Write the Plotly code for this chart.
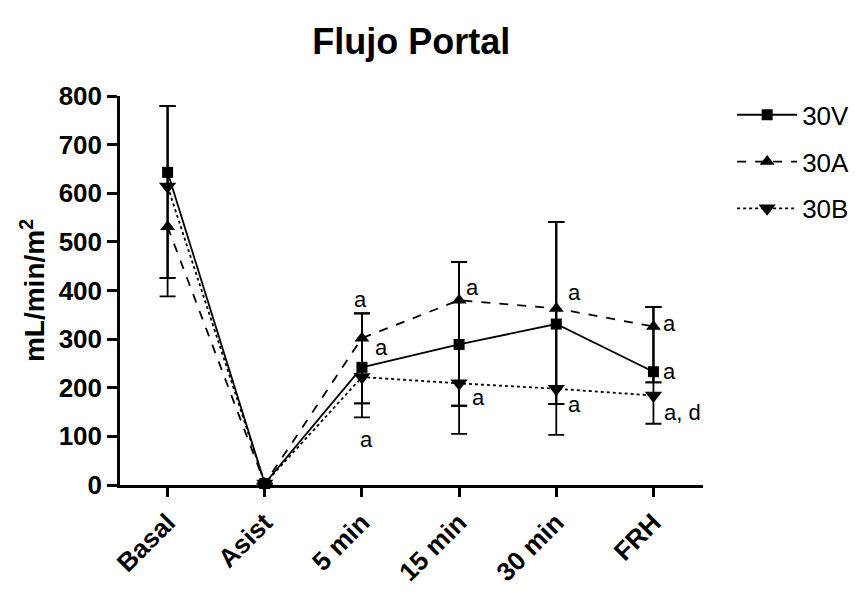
import plotly.graph_objects as go

categories = ["Basal", "Asist", "5 min", "15 min", "30 min", "FRH"]

v30 = [643, 3, 242, 289, 331, 233]
a30 = [531, 3, 302, 380, 363, 326]
b30 = [614, 3, 222, 209, 198, 184]

v30_plus = [136, 0, 111, 170, 210, 133]
v30_minus = [217, 0, 103, 184, 228, 22]
a30_plus = [248, 0, 51, 79, 178, 40]
a30_minus = [143, 0, 134, 217, 196, 115]
b30_plus = [165, 0, 131, 250, 343, 182]
b30_minus = [188, 0, 54, 46, 31, 58]

ann_text = ["a", "a", "a", "a", "a", "a", "a", "a", "a", "a, d"]
ann_x = [1.99, 2.20, 2.05, 3.14, 3.20, 4.19, 4.19, 5.17, 5.17, 5.30]
ann_y = [381, 282, 93, 407, 179, 395, 165, 333, 233, 150]

yticks = [0, 100, 200, 300, 400, 500, 600, 700, 800]

FONT = "Arial, Liberation Sans, sans-serif"

fig = go.Figure()

def add(name, y, plus, minus, dash, symbol, size):
    fig.add_trace(go.Scatter(
        x=categories, y=y, name=name, mode="lines+markers", legendgroup=name,
        line=dict(color="black", width=1.8, dash=dash),
        marker=dict(symbol=symbol, size=size, color="black"),
        error_y=dict(type="data", symmetric=False, array=plus, arrayminus=minus,
                     color="black", thickness=1.8, width=8),
        cliponaxis=False,
    ))

add("30V", v30, v30_plus, v30_minus, "solid", "square", 11)
add("30A", a30, a30_plus, a30_minus, "dash", "triangle-up", 13)
add("30B", b30, b30_plus, b30_minus, "dot", "triangle-down", 15)

for t, x, y in zip(ann_text, ann_x, ann_y):
    fig.add_annotation(x=x, y=y, text=t, showarrow=False, xref="x", yref="y",
                       font=dict(family=FONT, size=22, color="black"))

fig.update_layout(
    width=866, height=597,
    margin=dict(l=120, r=160, t=96, b=112),
    paper_bgcolor="white", plot_bgcolor="white",
    font=dict(family=FONT, color="black"),
    title=dict(text="Flujo Portal", x=0.475, xanchor="center", y=0.93, yanchor="middle",
               font=dict(family=FONT, size=36, color="black", weight="bold")),
    showlegend=True,
    legend=dict(x=1.05, y=1.012, xanchor="left", yanchor="top",
                font=dict(family=FONT, size=26, color="black"),
                bgcolor="rgba(0,0,0,0)", itemwidth=60, tracegroupgap=10),
    xaxis=dict(type="category", range=[-0.49, 5.51], showline=True, linecolor="black",
               linewidth=3, ticks="outside", ticklen=9, tickwidth=3, tickcolor="black",
               tickangle=-45, showgrid=False, zeroline=False, automargin=False,
               tickfont=dict(family=FONT, size=26, color="black", weight="bold")),
    yaxis=dict(range=[0, 800], tickvals=yticks, showline=True, linecolor="black",
               linewidth=2.5, ticks="outside", ticklen=10, tickwidth=2.5, tickcolor="black",
               showgrid=False, zeroline=False, automargin=False,
               tickfont=dict(family=FONT, size=26, color="black", weight="bold"),
               title=dict(text="mL/min/m<sup>2</sup>", standoff=6,
                          font=dict(family=FONT, size=28, color="black", weight="bold"))),
)

fig.write_html("out.html")
